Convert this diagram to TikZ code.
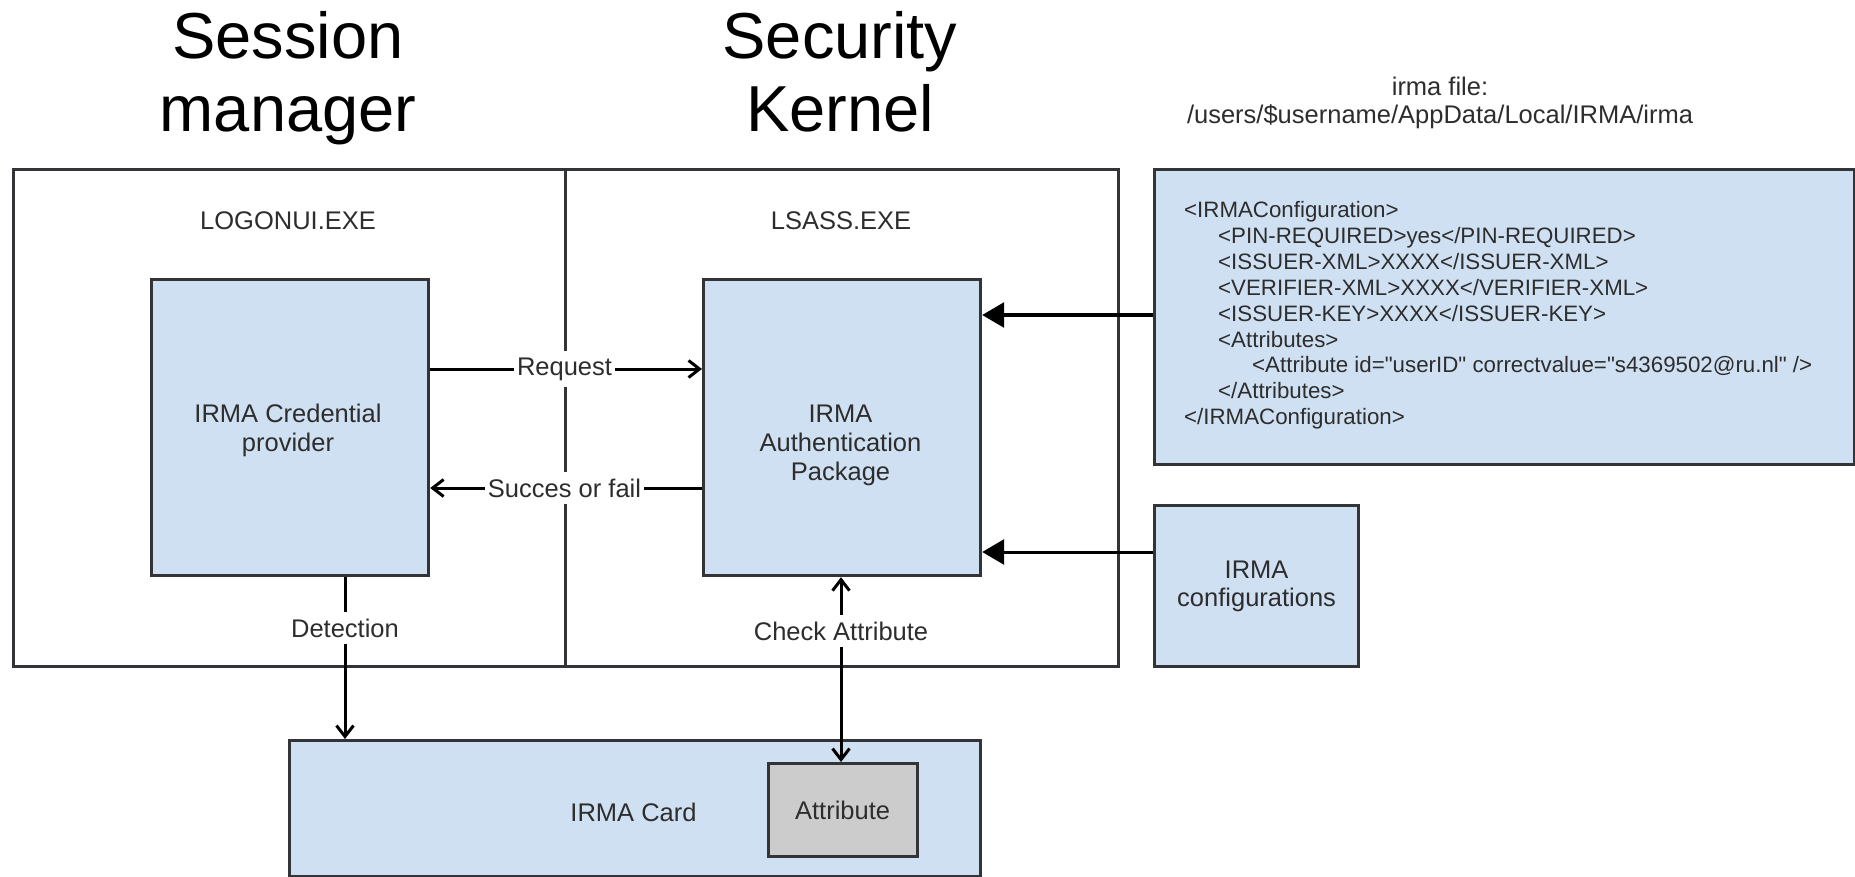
\documentclass[tikz,border=0pt]{standalone}
\usepackage{fontspec}
\setmainfont{Liberation Sans}
\usetikzlibrary{arrows.meta}
\definecolor{boxblue}{RGB}{207,224,242}
\definecolor{boxgray}{RGB}{204,204,204}
\definecolor{edgegray}{RGB}{50,52,56}
\definecolor{txtgray}{RGB}{45,45,45}
\begin{document}
\begin{tikzpicture}[x=1pt,y=-1pt,
  frame/.style={draw=edgegray, line width=3.2pt, fill=white, inner sep=0pt},
  box/.style={draw=edgegray, line width=3.2pt, fill=boxblue, inner sep=0pt, text=txtgray, align=center, font=\fontsize{25.5}{28}\selectfont},
  plain/.style={text=txtgray, inner sep=0pt, align=center, font=\fontsize{25.5}{29}\selectfont},
  lbl/.style={fill=white, text=txtgray, inner xsep=3pt, inner ysep=7pt, font=\fontsize{25.5}{29}\selectfont},
  title/.style={text=black, inner sep=0pt, align=center, font=\fontsize{65}{73}\selectfont},
  conn/.style={draw=black, line width=3pt},
  openhead/.style={-{Straight Barb[length=11pt,width=17pt]}},
  bothheads/.style={{Straight Barb[length=11pt,width=17pt]}-{Straight Barb[length=11pt,width=17pt]}},
  blockhead/.style={-{Triangle[length=22pt,width=25pt]}}
]
\useasboundingbox (0,0) rectangle (1855,877);

% titles
\node[title, anchor=north] (sm) at (288,11) {Session\\manager};
\node[title, anchor=north] (sk) at (840,11) {Security\\Kernel};
\node[plain, anchor=north, font=\fontsize{25.5}{28}\selectfont] (irmafile) at (1440,77) {irma file:\\/users/\$username/AppData/Local/IRMA/irma};

% process frames
\node[frame, anchor=north west, minimum width=552pt, minimum height=497pt] (logon) at (12,168) {};
\node[frame, anchor=north west, minimum width=553pt, minimum height=497pt] (lsass) at (564,168) {};
\node[plain, anchor=base] (logonlbl) at (288,230) {LOGONUI.EXE};
\node[plain, anchor=base] (lsasslbl) at (841,230) {LSASS.EXE};

% inner boxes
\node[box, anchor=north west, minimum width=277pt, minimum height=296pt] (cred) at (150,278) {};
\node[plain] (credtxt) at (288,430) {IRMA Credential\\provider};
\node[box, anchor=north west, minimum width=277pt, minimum height=296pt] (auth) at (702,278) {};
\node[plain] (authtxt) at (840.5,445) {IRMA\\Authentication\\Package};

% configuration file box
\node[box, anchor=north west, minimum width=700pt, minimum height=295pt] (cfg) at (1153,168) {};
\node[plain, align=left, anchor=north west, font=\fontsize{22.3}{25.85}\selectfont] (cfgtxt) at (1184,201.5) {%
<IRMAConfiguration>\\
\hspace*{34pt}<PIN-REQUIRED>yes</PIN-REQUIRED>\\
\hspace*{34pt}<ISSUER-XML>XXXX</ISSUER-XML>\\
\hspace*{34pt}<VERIFIER-XML>XXXX</VERIFIER-XML>\\
\hspace*{34pt}<ISSUER-KEY>XXXX</ISSUER-KEY>\\
\hspace*{34pt}<Attributes>\\
\hspace*{68pt}<Attribute id=\textquotedbl userID\textquotedbl{} correctvalue=\textquotedbl s4369502@ru.nl\textquotedbl{} />\\
\hspace*{34pt}</Attributes>\\
</IRMAConfiguration>};

\node[box, anchor=north west, minimum width=204pt, minimum height=161pt] (irmacfg) at (1153,504) {IRMA\\configurations};

% card
\node[box, anchor=north west, minimum width=691pt, minimum height=136pt] (card) at (288,739) {};
\node[plain] (cardtxt) at (633.5,812) {IRMA Card};
\node[box, fill=boxgray, anchor=north west, minimum width=149pt, minimum height=93pt] (attr) at (766.5,762) {Attribute};

% connector anchor coordinates
\coordinate (reqc) at (564.5,369);
\coordinate (succ) at (564.5,488);
\coordinate (detc) at (345,628);
\coordinate (chkc) at (841,631);
\coordinate (a1) at (1050,315);
\coordinate (a2) at (1050,552);

% connectors
\draw[conn, openhead] (cred.east |- reqc) -- (auth.west |- reqc);
\draw[conn, openhead] (auth.west |- succ) -- (cred.east |- succ);
\draw[conn, openhead] (cred.south -| detc) -- (card.north -| detc);
\draw[conn, bothheads] (auth.south -| chkc) -- (attr.north -| chkc);
\draw[conn, blockhead] (cfg.west |- a1) -- (auth.east |- a1);
\draw[conn, blockhead] (irmacfg.west |- a2) -- (auth.east |- a2);

% connector labels
\node[lbl] (req) at (reqc) {Request};
\node[lbl] (suc) at (succ) {Succes or fail};
\node[lbl] (det) at (detc) {Detection};
\node[lbl] (chk) at (chkc) {Check Attribute};
\end{tikzpicture}
\end{document}
